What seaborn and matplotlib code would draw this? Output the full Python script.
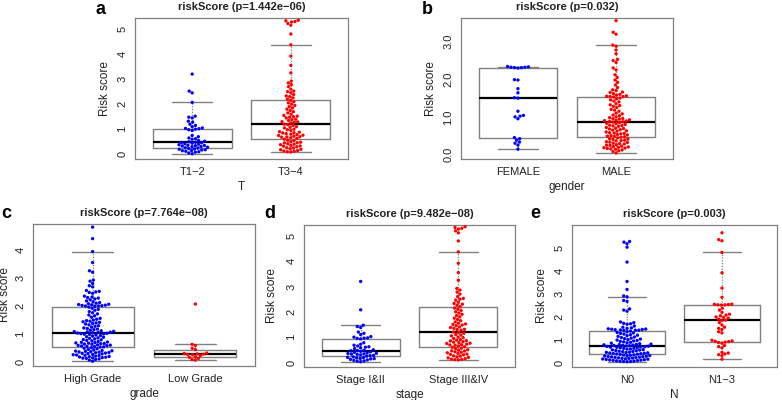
import warnings
import numpy as np
import pandas as pd
import matplotlib
matplotlib.use("Agg")
import matplotlib.pyplot as plt
import seaborn as sns

warnings.filterwarnings("ignore")
sns.set_style("white")
plt.rcParams["font.family"] = ["Liberation Sans", "DejaVu Sans"]

# ---------------- data ----------------
# panel a : T stage
t12 = [3.2, 2.52, 2.45, 2.07, 1.52, 1.48, 1.45, 1.32, 1.28, 1.2, 1.15, 1.1, 1.05,
       1.03, 1.02, 1.0, 0.98, 0.95, 0.75, 0.7, 0.65, 0.62, 0.6, 0.55, 0.52, 0.5,
       0.48, 0.47, 0.46, 0.44, 0.42, 0.4, 0.38, 0.36, 0.35, 0.34, 0.33, 0.31, 0.3,
       0.28, 0.26, 0.25, 0.23, 0.21, 0.2, 0.18, 0.17, 0.15, 0.14, 0.12, 0.1, 0.08,
       0.05, 0.02]
t34 = [5.35, 5.33, 5.3, 5.28, 5.22, 5.15, 4.8, 4.37, 3.92, 3.55, 3.25, 2.92, 2.85,
       2.78, 2.7, 2.6, 2.52, 2.5, 2.45, 2.38, 2.33, 2.3,
       2.25, 2.2, 2.15, 2.1, 2.05, 2.0, 1.95, 1.9, 1.85, 1.8, 1.75, 1.7,
       1.65, 1.6, 1.55, 1.52, 1.5, 1.48, 1.45, 1.4, 1.38, 1.35,
       1.3, 1.29, 1.28,
       1.25, 1.2, 1.18, 1.15, 1.1, 1.08, 1.05, 1.0, 0.98, 0.95,
       0.9, 0.88, 0.86, 0.85, 0.82, 0.8, 0.78, 0.76, 0.75, 0.72,
       0.7, 0.69, 0.68, 0.66,
       0.63, 0.6, 0.56, 0.55, 0.5, 0.48, 0.46, 0.45, 0.42, 0.4,
       0.38, 0.35, 0.33, 0.32, 0.3, 0.26, 0.25, 0.22, 0.2, 0.18,
       0.15, 0.13, 0.12, 0.1, 0.09]

# panel b : gender
female = [2.34, 2.33, 2.32, 2.32, 2.31, 2.31, 2.3, 1.99, 1.98, 1.75, 1.64, 1.51,
          1.5, 1.15, 1.04, 1.02, 1.0, 0.95, 0.45, 0.42, 0.38, 0.33, 0.3, 0.25, 0.14]
male = [3.56, 3.25, 3.2, 2.91, 2.88, 2.78, 2.68, 2.53, 2.5, 2.45, 2.3, 2.25, 2.12,
        2.05, 1.98, 1.92, 1.85, 1.78, 1.72, 1.7, 1.66, 1.65, 1.62, 1.6, 1.58,
        1.56, 1.55, 1.54, 1.54, 1.53,
        1.5, 1.48, 1.45, 1.42, 1.4, 1.35, 1.32, 1.3, 1.28, 1.25,
        1.2, 1.18, 1.15, 1.1, 1.08, 1.05, 1.03, 1.0, 0.98, 0.96, 0.95,
        0.94, 0.92, 0.91, 0.9, 0.89, 0.88, 0.87, 0.86,
        0.85, 0.83, 0.82, 0.8, 0.78, 0.77, 0.76, 0.75, 0.72, 0.7,
        0.69, 0.68, 0.66, 0.65, 0.63, 0.62, 0.6, 0.58, 0.57, 0.56, 0.55,
        0.53, 0.52, 0.5, 0.49, 0.48, 0.47, 0.46,
        0.44, 0.42, 0.41, 0.4, 0.38, 0.37, 0.36, 0.34, 0.33, 0.32,
        0.3, 0.29, 0.28, 0.26, 0.25, 0.24, 0.22, 0.21, 0.2, 0.19,
        0.18, 0.17, 0.16, 0.15, 0.14, 0.12, 0.1, 0.08, 0.04]

# panel c : grade
high_grade = [4.8, 4.39, 3.93, 3.54, 3.25, 3.2, 2.92, 2.88, 2.8, 2.72, 2.68, 2.55,
              2.52, 2.5, 2.48, 2.45, 2.35, 2.32, 2.3, 2.28, 2.25, 2.22, 2.18, 2.15,
              2.12, 2.1, 2.08, 2.06, 2.05, 2.04, 2.03, 2.02, 2.01, 2.0, 2.0, 1.99,
              1.96, 1.92, 1.88, 1.85, 1.8, 1.76, 1.72, 1.68, 1.65, 1.6, 1.56, 1.53,
              1.5, 1.48, 1.46, 1.44, 1.42, 1.4, 1.38, 1.36, 1.33, 1.3, 1.28, 1.25,
              1.22, 1.2, 1.18, 1.16, 1.14, 1.12, 1.1, 1.09, 1.08, 1.07, 1.06, 1.05,
              1.04,
              1.03, 1.02, 1.01, 1.0, 0.99, 0.97, 0.95, 0.93, 0.91, 0.89, 0.87, 0.85,
              0.83, 0.81, 0.8, 0.78, 0.76, 0.74, 0.72, 0.71, 0.7, 0.69, 0.68, 0.67,
              0.66, 0.65, 0.64, 0.62, 0.61, 0.6, 0.59, 0.58, 0.57, 0.56, 0.55, 0.54,
              0.52, 0.5, 0.48, 0.46, 0.44, 0.42, 0.41, 0.4, 0.39, 0.38, 0.37, 0.36,
              0.35, 0.34, 0.33, 0.32, 0.31, 0.3, 0.28, 0.27, 0.26, 0.25, 0.24, 0.22,
              0.21, 0.2, 0.19, 0.18, 0.17, 0.16, 0.15, 0.14, 0.12, 0.1, 0.08, 0.04]
low_grade = [2.07, 0.64, 0.6, 0.5, 0.45, 0.33, 0.31, 0.3, 0.29, 0.28, 0.27, 0.24,
             0.2, 0.18, 0.14, 0.1, 0.08]

# panel d : stage
stage12 = [3.2, 2.08, 1.47, 1.42, 1.38, 1.2, 1.15, 1.1, 1.02, 1.0, 0.97, 0.96, 0.95,
           0.93, 0.78, 0.72, 0.68, 0.65, 0.62, 0.6, 0.58, 0.55, 0.5, 0.48, 0.47,
           0.46, 0.44, 0.42, 0.4, 0.38, 0.36, 0.35, 0.34, 0.33, 0.32, 0.3, 0.28,
           0.27, 0.25, 0.22, 0.2, 0.19, 0.18, 0.16, 0.15, 0.14, 0.12, 0.1, 0.08,
           0.06, 0.05, 0.03]
stage34 = [5.36, 5.33, 5.3, 5.27, 5.2, 5.12, 4.8, 4.37, 3.92, 3.55, 3.25, 2.92, 2.86,
           2.78, 2.7, 2.6, 2.53, 2.5, 2.46, 2.38, 2.33, 2.3,
           2.26, 2.2, 2.15, 2.1, 2.05, 2.0, 1.95, 1.9, 1.85, 1.8, 1.75,
           1.7, 1.65, 1.6, 1.55, 1.52, 1.5, 1.48, 1.45, 1.4, 1.38,
           1.35, 1.31, 1.3,
           1.27, 1.2, 1.18, 1.15, 1.1, 1.08, 1.05, 1.0, 0.98, 0.95,
           0.9, 0.88, 0.86, 0.85, 0.82, 0.8, 0.78, 0.76, 0.75,
           0.72, 0.7, 0.69, 0.68,
           0.65, 0.62, 0.6, 0.56, 0.55, 0.5, 0.48, 0.46, 0.45,
           0.42, 0.4, 0.38, 0.35, 0.33, 0.32, 0.3, 0.26, 0.25, 0.22,
           0.2, 0.18, 0.15, 0.13, 0.12, 0.11, 0.1]

# panel e : N stage
n0 = [5.3, 5.27, 5.2, 5.05, 4.4, 3.55, 3.2, 2.92, 2.88, 2.72, 2.68, 2.35, 2.3, 2.25,
      1.78, 1.75, 1.72, 1.7, 1.68, 1.6, 1.55, 1.52, 1.5, 1.48, 1.47, 1.46, 1.45,
      1.44, 1.43, 1.42, 1.42, 1.41,
      1.38, 1.35, 1.32, 1.3, 1.28, 1.25, 1.22, 1.2, 1.18, 1.15, 1.12, 1.1, 1.07,
      1.05, 1.03, 1.01, 0.99, 0.97, 0.95, 0.93, 0.91, 0.89, 0.87, 0.85, 0.83, 0.81,
      0.8, 0.79, 0.78, 0.77, 0.76, 0.75, 0.74,
      0.73, 0.72, 0.71, 0.7, 0.69, 0.68, 0.67, 0.66, 0.65, 0.63, 0.62, 0.6, 0.59,
      0.57, 0.56, 0.55, 0.53, 0.52, 0.5, 0.49, 0.48, 0.46, 0.45, 0.44, 0.43, 0.42,
      0.41, 0.4, 0.39, 0.38, 0.37, 0.36,
      0.34, 0.33, 0.32, 0.31, 0.3, 0.29, 0.28, 0.27, 0.26, 0.25, 0.24, 0.23, 0.22,
      0.21, 0.2, 0.19, 0.18, 0.17, 0.16, 0.15, 0.14, 0.13, 0.12, 0.11, 0.1, 0.09,
      0.08, 0.07, 0.06, 0.05, 0.05, 0.04]
n13 = [5.68, 5.38, 5.33, 4.82, 3.93, 3.26, 2.86, 2.56, 2.55, 2.54, 2.53, 2.53, 2.52,
       2.38, 2.3, 2.2, 2.12, 2.08, 2.05, 2.0, 1.98, 1.95, 1.9, 1.86, 1.85, 1.75,
       1.65, 1.55, 1.5, 1.45, 1.35, 1.3, 0.98, 0.95, 0.93, 0.92, 0.9, 0.88, 0.85,
       0.75, 0.7, 0.65, 0.45, 0.42, 0.38, 0.35, 0.3, 0.15]

MINUS = "\u2212"
panels = [
    dict(letter="a", title=f"riskScore (p=1.442e{MINUS}06)", xlabel="T",
         cats=[f"T1{MINUS}2", f"T3{MINUS}4"], vals=[t12, t34],
         box=(135, 18, 348, 159), ylim=(-0.19, 5.44),
         yticks=[0, 1, 2, 3, 4, 5], ylabels=["0", "1", "2", "3", "4", "5"],
         lxy=(96, 9), ylx=-24),
    dict(letter="b", title="riskScore (p=0.032)", xlabel="gender",
         cats=["FEMALE", "MALE"], vals=[female, male],
         box=(461, 18, 673, 159), ylim=(-0.12, 3.63),
         yticks=[0, 0.5, 1, 1.5, 2, 2.5, 3, 3.5],
         ylabels=["0.0", "", "1.0", "", "2.0", "", "3.0", ""],
         lxy=(422, 9), ylx=-24),
    dict(letter="c", title=f"riskScore (p=7.764e{MINUS}08)", xlabel="grade",
         cats=["High Grade", "Low Grade"], vals=[high_grade, low_grade],
         box=(33, 224, 255, 366), ylim=(-0.13, 4.91),
         yticks=[0, 1, 2, 3, 4], ylabels=["0", "1", "2", "3", "4"],
         lxy=(1, 214), ylx=-22),
    dict(letter="d", title=f"riskScore (p=9.482e{MINUS}08)", xlabel="stage",
         cats=["Stage I&II", "Stage III&IV"], vals=[stage12, stage34],
         box=(304, 225, 515, 367), ylim=(-0.18, 5.43),
         yticks=[0, 1, 2, 3, 4, 5], ylabels=["0", "1", "2", "3", "4", "5"],
         lxy=(264, 214), ylx=-26),
    dict(letter="e", title="riskScore (p=0.003)", xlabel="N",
         cats=["N0", f"N1{MINUS}3"], vals=[n0, n13],
         box=(572, 225, 777, 367), ylim=(-0.19, 6.02),
         yticks=[0, 1, 2, 3, 4, 5], ylabels=["0", "1", "2", "3", "4", "5"],
         lxy=(530, 214), ylx=-24),
]

W, H = 782, 400
fig = plt.figure(figsize=(W / 100, H / 100), dpi=100)
GREY = "#808080"
TXT = "#222222"

for p in panels:
    l, t, r, b = p["box"]
    ax = fig.add_axes([l / W, 1 - b / H, (r - l) / W, (b - t) / H])
    df = pd.DataFrame({
        "group": np.repeat(p["cats"], [len(v) for v in p["vals"]]),
        "value": np.concatenate([np.asarray(v, float) for v in p["vals"]]),
    })
    sns.boxplot(data=df, x="group", y="value", order=p["cats"], ax=ax,
                width=0.8, fill=False, color=GREY, linewidth=1.0,
                showfliers=False, whis=1.5,
                boxprops=dict(color=GREY, linewidth=1.0),
                medianprops=dict(color="black", linewidth=1.6),
                whiskerprops=dict(color=GREY, linestyle=(0, (1, 1.2)), linewidth=0.9),
                capprops=dict(color=GREY, linewidth=1.0))
    sns.swarmplot(data=df, x="group", y="value", order=p["cats"], hue="group",
                  hue_order=p["cats"], palette=["#0000ff", "#ff0000"],
                  size=2.4, linewidth=0, ax=ax, legend=False, warn_thresh=1.0,
                  zorder=3)
    ax.set_xlim(-0.58, 1.58)
    ax.set_ylim(*p["ylim"])
    ax.set_yticks(p["yticks"])
    ax.set_yticklabels(p["ylabels"], rotation=90, va="center")
    ax.set_xticks([0, 1])
    ax.set_xticklabels(p["cats"])
    for s in ax.spines.values():
        s.set_visible(True)
        s.set_color(GREY)
        s.set_linewidth(0.9)
    ax.tick_params(axis="both", direction="out", length=3.5, width=0.8,
                   color=GREY, labelsize=8, labelcolor=TXT, pad=2)
    ax.set_ylabel("Risk score", fontsize=8.5, color=TXT)
    ax.set_xlabel(p["xlabel"], fontsize=8.5, color=TXT)
    wpx, hpx = r - l, b - t
    ax.yaxis.set_label_coords(p["ylx"] / wpx, 0.5)
    ax.xaxis.set_label_coords(0.5, -22 / hpx)
    ax.set_title(p["title"], fontsize=8, fontweight="bold", color=TXT, pad=6)
    fig.text(p["lxy"][0] / W, 1 - p["lxy"][1] / H, p["letter"], fontsize=13,
             fontweight="bold", ha="left", va="center", color="black")

fig.savefig("out.png", dpi=100)
